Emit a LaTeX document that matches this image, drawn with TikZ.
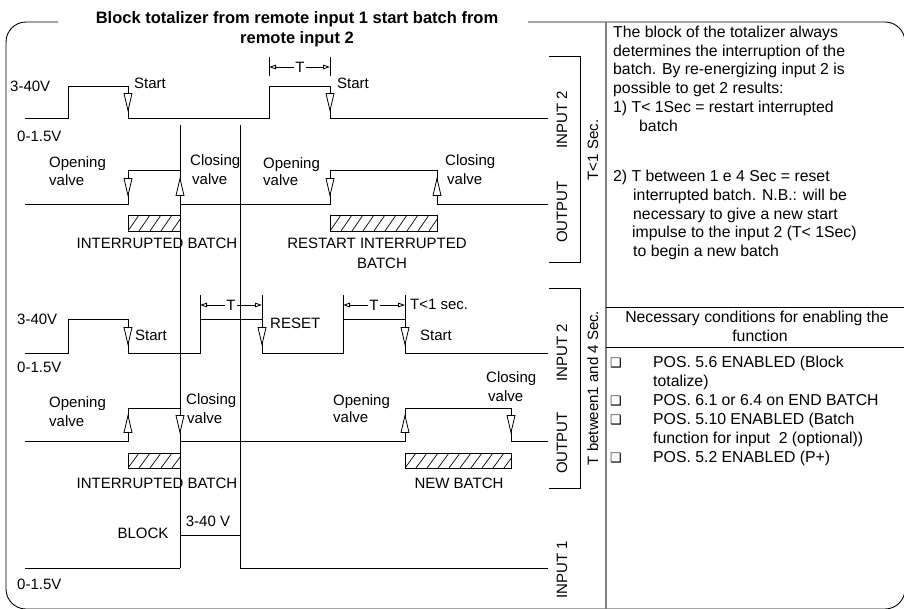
\documentclass[tikz,border=0pt]{standalone}
\usepackage{fontspec}
\setmainfont{Liberation Sans}
\newfontfamily\dejavu{DejaVu Sans}
\usetikzlibrary{arrows.meta}
\newcommand\myhatch[4]{%
  \begin{scope}
    \clip (#1,#2) rectangle (#3,#4);
    \foreach \k in {-2,...,11} \draw[line width=0.7pt] ({#1+\k*11},#4) -- ++(11,{#2-#4});
  \end{scope}
  \draw[line width=0.8pt] (#1,#2) rectangle (#3,#4);}
\tikzset{
  wave/.style={line width=0.9pt, line join=miter},
  lbl/.style={font=\fontsize{15}{18}\selectfont, inner sep=0pt, anchor=west, text height=11pt, text depth=3pt},
  ctr/.style={font=\fontsize{15}{18}\selectfont, inner sep=0pt, text height=11pt, text depth=3pt},
  side/.style={font=\fontsize{15}{18}\selectfont, inner sep=0pt, rotate=90, text height=11pt, text depth=3pt},
  txt/.style={font=\fontsize{15.8}{19}\selectfont, inner sep=0pt, anchor=west, text height=11.5pt, text depth=3pt},
  txtc/.style={font=\fontsize{15.8}{19}\selectfont, inner sep=0pt, text height=11.5pt, text depth=3pt},
  bul/.style={font=\dejavu\fontsize{13}{15}\selectfont, inner sep=0pt},
  ttl/.style={font=\bfseries\fontsize{16.5}{20}\selectfont, inner sep=0pt, text height=12pt, text depth=3.5pt},
  tickline/.style={line width=0.9pt},
  tarrow/.style={line width=0.8pt, -{Triangle[open,length=7pt,width=4.5pt]}},
  tnode/.style={font=\fontsize{15}{18}\selectfont, inner sep=1.2pt, text height=11pt, text depth=0pt},
  framestyle/.style={line width=0.9pt},
  dtri/.pic={\draw[fill=white,line width=0.8pt] (-4,-8.5) -- (4,-8.5) -- (0,8.5) -- cycle;},
  utri/.pic={\draw[fill=white,line width=0.8pt] (-4,8.5) -- (4,8.5) -- (0,-8.5) -- cycle;}
}
\begin{document}
\begin{tikzpicture}[x=1pt,y=-1pt]
\useasboundingbox (0,0) rectangle (904,608);
\fill[white] (0,0) rectangle (904,608);

% frame and title
\draw[framestyle, rounded corners=20] (58,22) -- (6,22) -- (6,609) -- (905,609) -- (905,22) -- (528,22);
\node[ttl] (title1) at (297,19) {Block totalizer from remote input 1 start batch from};
\node[ttl] (title2) at (297,39) {remote input 2};
\draw[line width=1.6pt, gray] (606,22) -- (606,609);
\draw[line width=0.8pt] (606,307) -- (905,307);
\draw[line width=0.8pt] (606,347) -- (905,347);

% ---------- section 1 : INPUT 2 ----------
\draw[wave] (25,118) -- (68,118) -- (68,86) -- (128,86) -- (128,118) -- (269,118) -- (269,86) -- (330,86) -- (330,118) -- (548,118);
\pic at (128,102) {dtri};
\pic at (330,102) {dtri};
\node[lbl] (v1) at (10,87) {3-40V};
\node[lbl] (z1) at (17,137) {0-1.5V};
\node[lbl] (st1) at (134,84) {Start};
\node[lbl] (st2) at (337,84) {Start};
\draw[tickline] (269,57) -- (269,76);
\draw[tickline] (330,57) -- (330,76);
\node[tnode] (T1) at (300,67) {T};
\coordinate (T1l) at (269,67);
\coordinate (T1r) at (330,67);
\draw[tarrow] (T1) -- (T1l);
\draw[tarrow] (T1) -- (T1r);

% common verticals
\draw[wave] (180,125) -- (180,568);
\draw[wave] (240,125) -- (240,568);

% ---------- section 1 : OUTPUT ----------
\draw[wave] (25,204) -- (128,204) -- (128,170) -- (180,170);
\draw[wave] (180,204) -- (330,204) -- (330,170) -- (437,170) -- (437,204) -- (548,204);
\pic at (128,187) {dtri};
\pic at (180,187) {utri};
\pic at (330,187) {dtri};
\pic at (437,187) {utri};
\node[lbl] (o1a) at (49,163) {Opening};
\node[lbl] (o1b) at (49,181) {valve};
\node[lbl] (c1a) at (190,161) {Closing};
\node[lbl] (c1b) at (192,180) {valve};
\node[lbl] (o2a) at (263,164) {Opening};
\node[lbl] (o2b) at (263,181) {valve};
\node[lbl] (c2a) at (445,161) {Closing};
\node[lbl] (c2b) at (447,180) {valve};
\myhatch{128}{215}{180}{231}
\myhatch{330}{215}{437}{231}
\node[ctr] (ib1) at (157,244) {INTERRUPTED BATCH};
\node[ctr] (rib1) at (377,244) {RESTART INTERRUPTED};
\node[ctr] (rib2) at (382,264) {BATCH};

% brackets & side labels section 1
\draw[wave] (549,56) -- (580,56) -- (580,262) -- (549,262);
\node[side] (in2a) at (563,120) {INPUT 2};
\node[side] (outa) at (563,212) {OUTPUT};
\node[side] (tlt) at (594,150) {T<1 Sec.};

% ---------- section 2 : INPUT 2 ----------
\draw[wave] (25,353) -- (68,353) -- (68,319) -- (128,319) -- (128,353) -- (200,353) -- (200,319) -- (262,319) -- (262,353) -- (343,353) -- (343,319) -- (405,319) -- (405,353) -- (548,353);
\pic at (128,336) {dtri};
\pic at (262,336) {dtri};
\pic at (405,336) {dtri};
\node[lbl] (v2) at (17,320) {3-40V};
\node[lbl] (z2) at (17,368) {0-1.5V};
\node[lbl] (st3) at (135,336) {Start};
\node[lbl] (rst) at (270,324) {RESET};
\node[lbl] (st4) at (420,336) {Start};
\node[lbl] (tls) at (410,305) {T<1 sec.};
\draw[tickline] (200,295) -- (200,319);
\draw[tickline] (262,295) -- (262,319);
\draw[tickline] (343,295) -- (343,319);
\draw[tickline] (405,295) -- (405,319);
\node[tnode] (T2) at (231,305) {T};
\coordinate (T2l) at (200,305);
\coordinate (T2r) at (262,305);
\draw[tarrow] (T2) -- (T2l);
\draw[tarrow] (T2) -- (T2r);
\node[tnode] (T3) at (374,305) {T};
\coordinate (T3l) at (343,305);
\coordinate (T3r) at (405,305);
\draw[tarrow] (T3) -- (T3l);
\draw[tarrow] (T3) -- (T3r);

% ---------- section 2 : OUTPUT ----------
\draw[wave] (25,441) -- (128,441) -- (128,408) -- (180,408);
\draw[wave] (180,441) -- (405,441) -- (405,408) -- (511,408) -- (511,441) -- (548,441);
\pic at (128,424) {utri};
\pic at (180,424) {dtri};
\pic at (405,424) {utri};
\pic at (511,424) {dtri};
\node[lbl] (o3a) at (49,403) {Opening};
\node[lbl] (o3b) at (49,422) {valve};
\node[lbl] (c3a) at (186,400) {Closing};
\node[lbl] (c3b) at (187,419) {valve};
\node[lbl] (o4a) at (333,401) {Opening};
\node[lbl] (o4b) at (333,418) {valve};
\node[lbl] (c4a) at (486,378) {Closing};
\node[lbl] (c4b) at (488,397) {valve};
\myhatch{128}{453}{180}{468}
\myhatch{405}{453}{511}{468}
\node[ctr] (ib2) at (157,484) {INTERRUPTED BATCH};
\node[ctr] (nb) at (459,484) {NEW BATCH};

\draw[wave] (549,288) -- (580,288) -- (580,488) -- (549,488);
\node[side] (in2b) at (563,353) {INPUT 2};
\node[side] (outb) at (563,443) {OUTPUT};
\node[side] (tbw) at (594,388) {T between1 and 4 Sec.};

% ---------- INPUT 1 ----------
\draw[wave] (25,568) -- (180,568);
\draw[wave] (180,535) -- (240,535);
\draw[wave] (240,568) -- (548,568);
\node[ctr] (blk) at (143,534) {BLOCK};
\node[ctr] (hv) at (208,522) {3-40 V};
\node[lbl] (z3) at (17,585) {0-1.5V};
\node[side] (in1) at (563,570) {INPUT 1};

% ---------- right panel ----------
\node[txt] (p1) at (613,33) {The block of the totalizer always};
\node[txt] (p2) at (613,52) {determines the interruption of the};
\node[txt] (p3) at (613,70) {batch. By re-energizing input 2 is};
\node[txt] (p4) at (613,89) {possible to get 2 results:};
\node[txt] (p5) at (613,108) {1) T< 1Sec = restart interrupted};
\node[txt] (p6) at (639,127) {batch};
\node[txt] (p7) at (613,177) {2) T between 1 e 4 Sec = reset};
\node[txt] (p8) at (633,196) {interrupted batch. N.B.: will be};
\node[txt] (p9) at (633,215) {necessary to give a new start};
\node[txt] (p10) at (632,233) {impulse to the input 2 (T< 1Sec)};
\node[txt] (p11) at (633,252) {to begin a new batch};

\node[txtc] (nc1) at (757,318) {Necessary conditions for enabling the};
\node[txtc] (nc2) at (760,337) {function};

\node[bul] (b1) at (616,363) {❑};
\node[txt] (q1) at (653,363) {POS. 5.6 ENABLED (Block};
\node[txt] (q1b) at (653,382) {totalize)};
\node[bul] (b2) at (616,401) {❑};
\node[txt] (q2) at (653,401) {POS. 6.1 or 6.4 on END BATCH};
\node[bul] (b3) at (616,420) {❑};
\node[txt] (q3) at (653,420) {POS. 5.10 ENABLED (Batch};
\node[txt] (q3b) at (653,439) {function for input~~2 (optional))};
\node[bul] (b4) at (616,458) {❑};
\node[txt] (q4) at (653,458) {POS. 5.2 ENABLED (P+)};
\end{tikzpicture}
\end{document}
